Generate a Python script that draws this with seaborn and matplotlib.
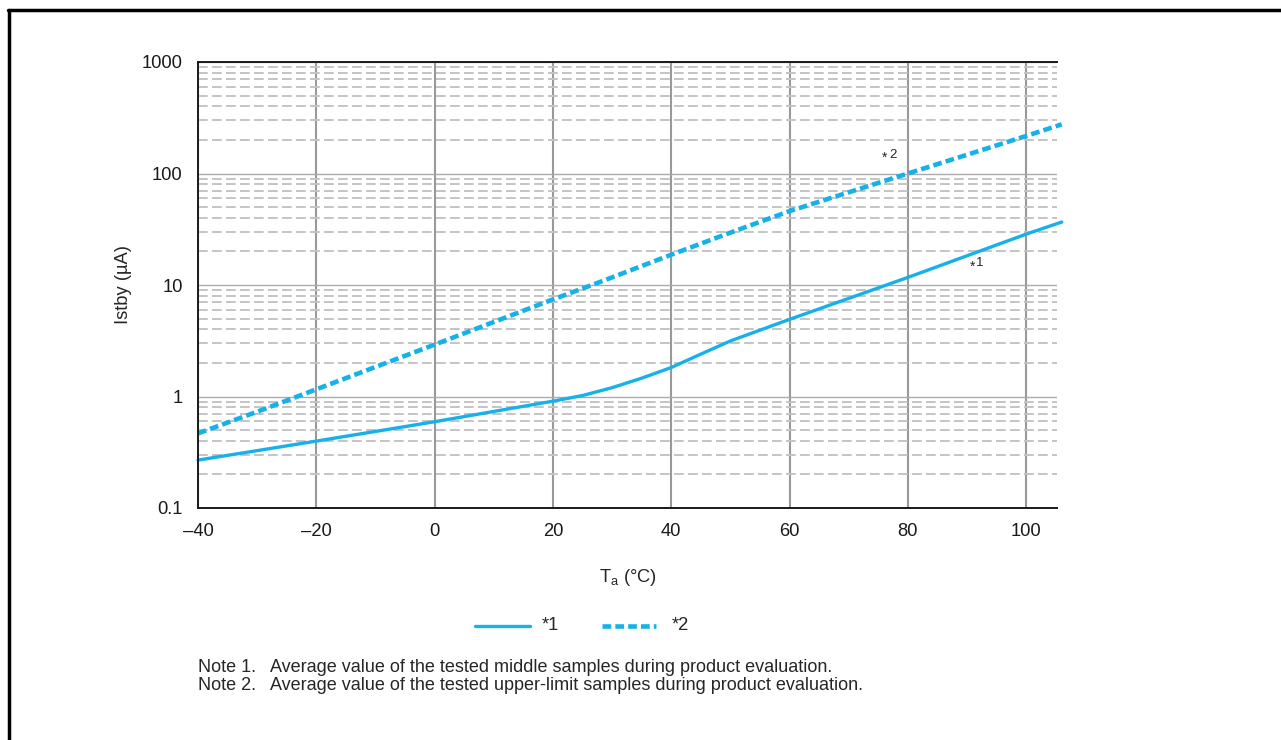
import pandas as pd
import matplotlib.pyplot as plt
import matplotlib.ticker as mticker
import seaborn as sns
import numpy as np

# temperature points
temps = [-40, -30, -20, 0, 20, 25, 30, 35, 40, 45, 50, 60, 80, 100, 106]
istby_mid = [0.269, 0.327, 0.398, 0.594, 0.908, 1.02, 1.2, 1.46, 1.82, 2.4, 3.15, 4.92, 11.7, 28.6, 36.7]
istby_upper = [0.467, 0.73, 1.16, 2.92, 7.43, 9.3, 11.7, 14.8, 18.7, 23.5, 29.5, 46, 100, 217, 276]

xticks = [-40, -20, 0, 20, 40, 60, 80, 100]
xtick_labels = ["\u201340", "\u201320", "0", "20", "40", "60", "80", "100"]
yticks = [0.1, 1, 10, 100, 1000]
ytick_labels = ["0.1", "1", "10", "100", "1000"]

notes = ["Note 1.   Average value of the tested middle samples during product evaluation.",
         "Note 2.   Average value of the tested upper-limit samples during product evaluation."]

blue = "#16b1ea"

# long-form table for seaborn
df = pd.concat([
    pd.DataFrame({"Ta": temps, "Istby": istby_mid, "series": "*1"}),
    pd.DataFrame({"Ta": temps, "Istby": istby_upper, "series": "*2"}),
])

sns.set_style("white")
plt.rcParams['font.family'] = ['Liberation Sans', 'DejaVu Sans']

fig = plt.figure(figsize=(12.81, 7.4), dpi=100)
ax = fig.add_axes([198 / 1281, 1 - 508 / 740, (1057 - 198) / 1281, (508 - 62) / 740])

sns.lineplot(data=df, x="Ta", y="Istby", style="series", dashes={"*1": "", "*2": (1.9, 0.9)},
             color=blue, linewidth=2.4, ax=ax, legend=False, clip_on=False)
ax.lines[1].set_linewidth(3.3)

ax.set_yscale("log")
ax.set_xlim(-40, 105.2)
ax.set_ylim(0.1, 1000)

ax.set_xticks(xticks)
ax.set_xticklabels(xtick_labels)
ax.set_yticks(yticks)
ax.set_yticklabels(ytick_labels)
ax.yaxis.set_minor_locator(mticker.LogLocator(base=10, subs=np.arange(2, 10)))
ax.yaxis.set_minor_formatter(mticker.NullFormatter())
ax.tick_params(axis="both", which="both", length=0, labelsize=13.2, colors="#1a1a1a")
ax.tick_params(axis="x", pad=11)
ax.tick_params(axis="y", pad=11)

ax.grid(axis="x", which="major", color="#999999", linewidth=1.5)
ax.grid(axis="y", which="major", color="#aaaaaa", linewidth=1.0)
ax.grid(axis="y", which="minor", color="#c4c4c4", linewidth=1.4, linestyle=(0, (5, 2.2)))
ax.set_axisbelow(True)

ax.spines["right"].set_visible(False)
for side in ["left", "top", "bottom"]:
    ax.spines[side].set_color("#1a1a1a")
    ax.spines[side].set_linewidth(1.4)

ax.set_xlabel("T$_\\mathregular{a}$ (°C)", fontsize=13.2, labelpad=19)
ax.set_ylabel("Istby (µA)", fontsize=13.2, labelpad=7)

# curve markers
ax.text(76.1, 137, "*", fontsize=10, ha="center", va="center")
ax.text(77.5, 146, "2", fontsize=9.5, ha="center", va="center")
ax.text(90.9, 14.7, "*", fontsize=10, ha="center", va="center")
ax.text(92.1, 15.6, "1", fontsize=9.5, ha="center", va="center")

# legend drawn as figure lines
fig.add_artist(plt.Line2D([475 / 1281, 530 / 1281], [1 - 626 / 740] * 2, color=blue, linewidth=2.4))
fig.add_artist(plt.Line2D([602 / 1281, 656 / 1281], [1 - 626 / 740] * 2, color=blue, linewidth=3.3,
                          linestyle=(0, (1.9, 0.9))))
fig.text(542 / 1281, 1 - 626 / 740, "*1", fontsize=13.2, va="center")
fig.text(672 / 1281, 1 - 626 / 740, "*2", fontsize=13.2, va="center")

for i, note in enumerate(notes):
    fig.text(198 / 1281, 1 - (667 + 18 * i) / 740, note, fontsize=13, va="center")

# page frame
fig.add_artist(plt.Line2D([8 / 1281, 1], [1 - 10 / 740] * 2, color="black", linewidth=2.5))
fig.add_artist(plt.Line2D([9 / 1281] * 2, [0, 1 - 10 / 740], color="black", linewidth=2.5))

fig.savefig("out.png", dpi=100)
